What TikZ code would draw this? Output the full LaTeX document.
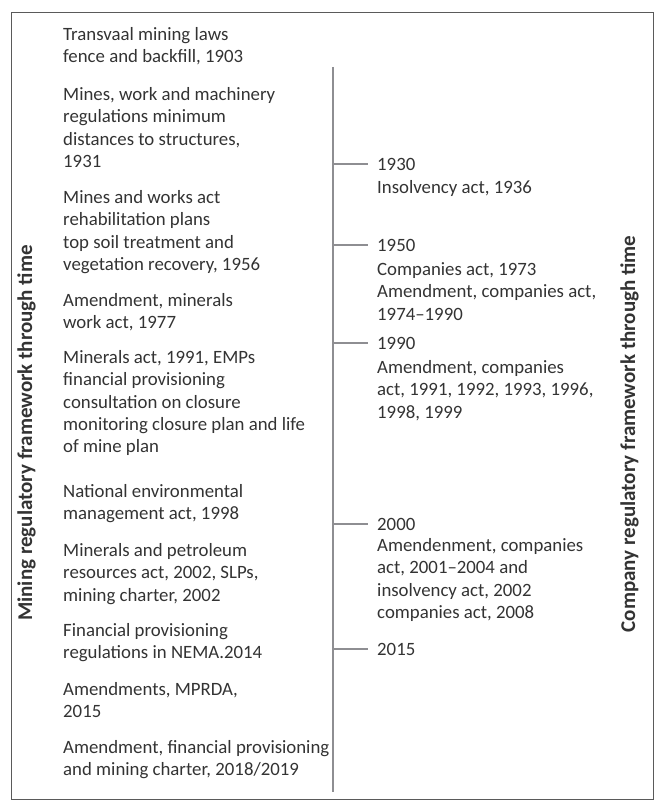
\documentclass[tikz,border=0pt]{standalone}
\usepackage{fontspec}
\setmainfont{Carlito}

\definecolor{txtgrey}{HTML}{333333}
\definecolor{linegrey}{HTML}{8E8E92}
\definecolor{framegrey}{HTML}{5A5A5A}

\tikzset{
  entry/.style={anchor=north west, yshift=15.6pt, align=left, inner sep=0pt, text=txtgrey,
    font=\fontsize{18.8}{22.3}\selectfont, execute at begin node=\strut},
  year/.style={anchor=west, inner sep=0pt, text=txtgrey,
    font=\fontsize{18.8}{22.3}\selectfont},
  sidelabel/.style={anchor=base, rotate=90, inner sep=0pt, text=txtgrey,
    font=\fontsize{21}{24}\selectfont\bfseries},
  timeline/.style={draw=linegrey, line width=2pt}
}

\begin{document}
\begin{tikzpicture}[x=1pt,y=-1pt]
\useasboundingbox (0,0) rectangle (657,800);
\draw [framegrey, line width=1pt] (11,13) rectangle (653,799);

\node [sidelabel] (mininglabel) at (32,433) {Mining regulatory framework through time};
\node [sidelabel] (companylabel) at (635,434) {Company regulatory framework through time};

\node [entry] (m1903) at (63,43) {Transvaal mining laws\\fence and backfill, 1903};
\node [entry] (m1931) at (63,103) {Mines, work and machinery\\regulations minimum\\distances to structures,\\1931};
\node [entry] (m1956) at (63,206) {Mines and works act\\rehabilitation plans\\top soil treatment and\\vegetation recovery, 1956};
\node [entry] (m1977) at (63,309) {Amendment, minerals\\work act, 1977};
\node [entry] (m1991) at (63,366) {Minerals act, 1991, EMPs\\financial provisioning\\consultation on closure\\monitoring closure plan and life\\of mine plan};
\node [entry] (m1998) at (63,500) {National environmental\\management act, 1998};
\node [entry] (m2002) at (63,559) {Minerals and petroleum\\resources act, 2002, SLPs,\\mining charter, 2002};
\node [entry] (m2014) at (63,639) {Financial provisioning\\regulations in NEMA.2014};
\node [entry] (m2015) at (63,698) {Amendments, MPRDA,\\2015};
\node [entry] (m2018) at (63,756) {Amendment, financial provisioning\\and mining charter, 2018/2019};

\coordinate (linetop) at (333,67);
\coordinate (linebottom) at (333,792);
\draw [timeline] (linetop) -- (linebottom);

\node [year] (y1930) at (377,164) {1930};
\node [year] (y1950) at (377,245) {1950};
\node [year] (y1990) at (377,343) {1990};
\node [year] (y2000) at (377,524) {2000};
\node [year] (y2015) at (377,649) {2015};

\foreach \yr in {1930,1950,1990,2000,2015}
  \draw [timeline] (linetop |- y\yr.west) -- ([xshift=-9pt]y\yr.west);

\node [entry] (c1936) at (377,193) {Insolvency act, 1936};
\node [entry] (c1973) at (377,278) {Companies act, 1973\\Amendment, companies act,\\1974--1990};
\node [entry] (c1991) at (377,376) {Amendment, companies\\act, 1991, 1992, 1993, 1996,\\1998, 1999};
\node [entry] (c2001) at (377,554) {Amendenment, companies\\act, 2001--2004 and\\insolvency act, 2002\\companies act, 2008};
\end{tikzpicture}
\end{document}
